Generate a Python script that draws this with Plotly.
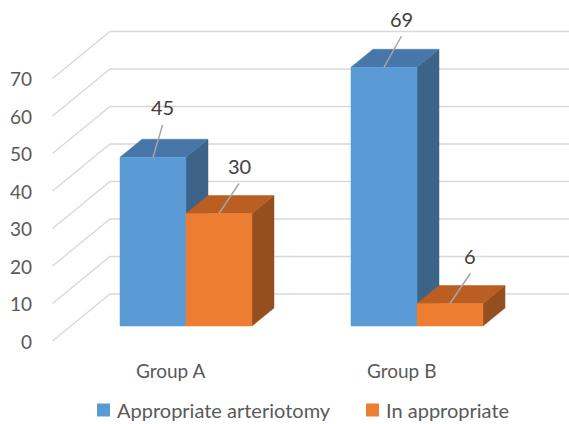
import plotly.graph_objects as go

# ---------------- data ----------------
categories = ["Group A", "Group B"]
series_names = ["Appropriate arteriotomy", "In appropriate"]
appropriate = [45, 69]
inappropriate = [30, 6]
y_ticks = [0, 10, 20, 30, 40, 50, 60, 70]

# ---------------- style / geometry ----------------
W, H = 569, 424
PX_PER_CAT = 231.0     # pixels between category centres
PX_PER_VAL = 3.75      # pixels per value unit
X0_PX = 186.0          # pixel x of first category centre
Y0_PX = 326.0          # pixel y of value 0 on bar front plane
BAR_W_PX = 66.0
DEPTH_DX_PX, DEPTH_DY_PX = 22.0, 18.0
WALL_FRONT_X_PX, WALL_BACK_X_PX = 52.5, 110.0
WALL_FRONT_DY_PX, WALL_BACK_DY_PX = -15.0, 32.0   # + = up relative to bar plane

front_cols = ["#5B9BD5", "#ED7D31"]
top_cols = ["#4677A8", "#BA5E22"]
side_cols = ["#3B6488", "#954F1F"]
grid_col = "#D9D9D9"
text_col = "#595959"
FONT = "Lato"

# leader line offsets (px) per series per category
leader = [[(9.6, 32.4), (17.4, 31.0)], [(20.0, 30.0), (20.3, 30.0)]]


def ux(px):
    return px / PX_PER_CAT


def uy(px):
    return px / PX_PER_VAL


x_range = [-X0_PX / PX_PER_CAT, (W - X0_PX) / PX_PER_CAT]
y_range = [-(H - Y0_PX) / PX_PER_VAL, Y0_PX / PX_PER_VAL]
x_right = x_range[1]

fig = go.Figure()

# gridlines (left wall diagonal + back wall)
gx, gy = [], []
for v in y_ticks:
    gx += [ux(WALL_FRONT_X_PX - X0_PX), ux(WALL_BACK_X_PX - X0_PX), x_right, None]
    gy += [v + uy(WALL_FRONT_DY_PX), v + uy(WALL_BACK_DY_PX), v + uy(WALL_BACK_DY_PX), None]
fig.add_trace(go.Scatter(x=gx, y=gy, mode="lines", line=dict(color=grid_col, width=1.4),
                         hoverinfo="skip", showlegend=False))

bw = ux(BAR_W_PX)
ddx, ddy = ux(DEPTH_DX_PX), uy(DEPTH_DY_PX)
series = [appropriate, inappropriate]

annotations = []
for ci, cat in enumerate(categories):
    for si, vals in enumerate(series):
        v = vals[ci]
        x0 = ci - bw + si * bw
        x1 = x0 + bw
        # side face
        fig.add_trace(go.Scatter(x=[x1, x1 + ddx, x1 + ddx, x1, x1],
                                 y=[0, ddy, v + ddy, v, 0], mode="lines",
                                 fill="toself", fillcolor=side_cols[si],
                                 line=dict(width=0.5, color=side_cols[si]),
                                 hoverinfo="skip", showlegend=False))
        # top face
        fig.add_trace(go.Scatter(x=[x0, x1, x1 + ddx, x0 + ddx, x0],
                                 y=[v, v, v + ddy, v + ddy, v], mode="lines",
                                 fill="toself", fillcolor=top_cols[si],
                                 line=dict(width=0.5, color=top_cols[si]),
                                 hoverinfo="skip", showlegend=False))
        # front face
        fig.add_trace(go.Scatter(x=[x0, x1, x1, x0, x0],
                                 y=[0, 0, v, v, 0], mode="lines",
                                 fill="toself", fillcolor=front_cols[si],
                                 line=dict(width=0.5, color=front_cols[si]),
                                 name=series_names[si], hoverinfo="skip",
                                 showlegend=False))
        # leader line + label
        lx, ly = leader[si][ci]
        xc = (x0 + x1) / 2
        fig.add_trace(go.Scatter(x=[xc, xc + ux(lx)], y=[v, v + uy(ly)], mode="lines",
                                 line=dict(color="#A6A6A6", width=1.5),
                                 hoverinfo="skip", showlegend=False))
        annotations.append(dict(x=xc + ux(lx), y=v + uy(ly + 17.5), text=str(v),
                                showarrow=False, xanchor="center", yanchor="middle",
                                font=dict(family=FONT, size=20, color="#404040")))

# y tick labels
for v in y_ticks:
    annotations.append(dict(x=ux(34 - X0_PX), y=v + uy(WALL_FRONT_DY_PX), text=str(v),
                            showarrow=False, xanchor="right", yanchor="middle",
                            font=dict(family=FONT, size=19, color=text_col)))

# category labels
for ci, cat in enumerate(categories):
    annotations.append(dict(x=ci - ux(16), y=-uy(44), text=cat, showarrow=False,
                            xanchor="center", yanchor="middle",
                            font=dict(family=FONT, size=19, color=text_col)))

# legend (manual)
shapes = []
leg_sq = [(97, 110), (366, 379)]
leg_tx = [115, 384]
leg_y = 410
for si, name in enumerate(series_names):
    a, b = leg_sq[si]
    shapes.append(dict(type="rect", xref="paper", yref="paper",
                       x0=a / W, x1=b / W, y0=1 - (leg_y + 6.5) / H, y1=1 - (leg_y - 6.5) / H,
                       fillcolor=front_cols[si], line=dict(width=0)))
    annotations.append(dict(xref="paper", yref="paper", x=leg_tx[si] / W, y=1 - leg_y / H,
                            text=name, showarrow=False, xanchor="left", yanchor="middle",
                            font=dict(family=FONT, size=20, color=text_col)))

fig.update_layout(
    width=W, height=H, autosize=False,
    margin=dict(l=0, r=0, t=0, b=0),
    paper_bgcolor="white", plot_bgcolor="white",
    xaxis=dict(range=x_range, visible=False, fixedrange=True),
    yaxis=dict(range=y_range, visible=False, fixedrange=True),
    annotations=annotations, shapes=shapes, showlegend=False,
)

fig.write_html("out.html")
